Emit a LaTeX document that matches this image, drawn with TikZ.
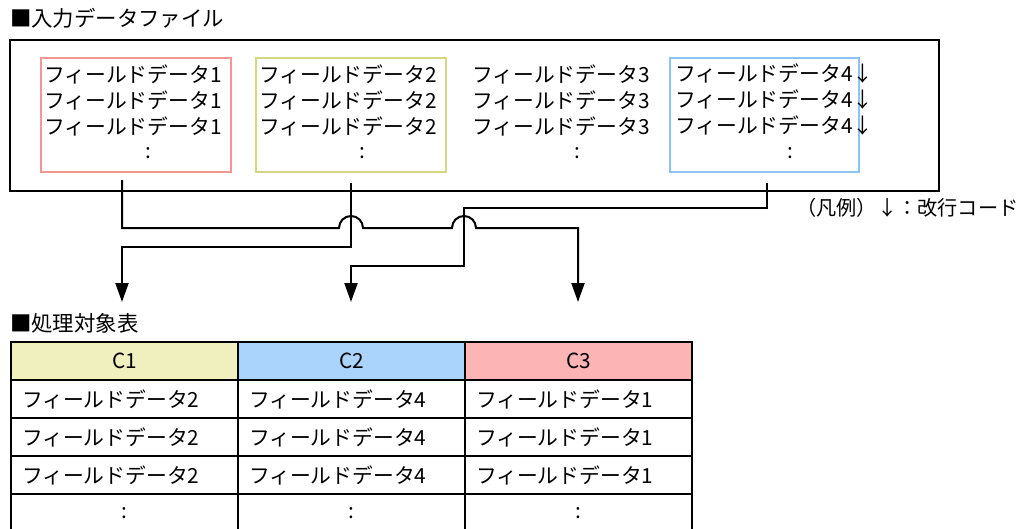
\documentclass[tikz,border=0pt]{standalone}
\usepackage{fontspec}
\setmainfont{Noto Sans CJK JP}
\usetikzlibrary{arrows.meta}
\definecolor{boxred}{RGB}{245,150,150}
\definecolor{boxyellow}{RGB}{215,215,130}
\definecolor{boxblue}{RGB}{140,195,245}
\definecolor{hdyellow}{RGB}{240,240,190}
\definecolor{hdblue}{RGB}{170,212,252}
\definecolor{hdred}{RGB}{252,180,180}
\begin{document}
\begin{tikzpicture}[x=1pt,y=-1pt,
  txt/.style={font=\fontsize{20.8}{24}\selectfont, inner sep=0pt, anchor=west},
  ctr/.style={font=\fontsize{20.8}{24}\selectfont, inner sep=0pt},
  colbox/.style={line width=2pt, minimum height=114pt, inner sep=0pt, anchor=north west},
  conn/.style={line width=2pt, line join=miter},
  tip/.style={-{Triangle[length=19pt,width=13pt]}},
  cell/.style={draw, line width=2pt, minimum height=38pt, inner xsep=11pt, inner ysep=0pt,
    text width=205pt, anchor=north west, font=\fontsize{20.8}{24}\selectfont},
  lcell/.style={cell, align=left},
  ccell/.style={cell, align=center}
]
\useasboundingbox (0,0) rectangle (1020,528);

% title
\node[txt, font=\fontsize{21.4}{24}\selectfont] (title1) at (10,18) {■入力データファイル};

% outer file box
\node[draw, line width=2pt, minimum width=929pt, minimum height=151pt, inner sep=0pt,
  anchor=north west] (infile) at (9,39) {};

% coloured boxes
\node[colbox, draw=boxred, minimum width=190pt] (boxa) at (40,57) {};
\node[colbox, draw=boxyellow, minimum width=190pt] (boxb) at (255,57) {};
\node[colbox, draw=boxblue, minimum width=189pt] (boxd) at (669,57) {};

% field texts
\node[txt] (a1) at (44,74) {フィールドデータ1};
\node[txt] (a2) at (44,100) {フィールドデータ1};
\node[txt] (a3) at (44,126) {フィールドデータ1};
\node[ctr] (a4) at (148,153) {:};
\node[txt] (b1) at (259,74) {フィールドデータ2};
\node[txt] (b2) at (259,100) {フィールドデータ2};
\node[txt] (b3) at (259,126) {フィールドデータ2};
\node[ctr] (b4) at (362,153) {:};
\node[txt] (c1) at (472,74) {フィールドデータ3};
\node[txt] (c2) at (472,100) {フィールドデータ3};
\node[txt] (c3) at (472,126) {フィールドデータ3};
\node[ctr] (c4) at (577,153) {:};
\node[txt] (d1) at (675,74) {フィールドデータ4↓};
\node[txt] (d2) at (675,100) {フィールドデータ4↓};
\node[txt] (d3) at (675,126) {フィールドデータ4↓};
\node[ctr] (d4) at (790,153) {:};

% legend
\node[txt, font=\fontsize{20.2}{24}\selectfont] (legend) at (796,208) {（凡例）↓：改行コード};

% connectors
\coordinate (s1) at (122,180);
\coordinate (s2) at (351,183);
\coordinate (s3) at (767,183);
\coordinate (e1) at (122,302);
\coordinate (e2) at (351,302);
\coordinate (e3) at (578,302);

\draw[conn,tip] (s1) |- (339,228) arc[start angle=180,end angle=0,radius=12pt]
  -- (452,228) arc[start angle=180,end angle=0,radius=12pt] -| (e3);
\draw[conn,tip] (s2) -- (351,247) -| (e1);
\draw[conn,tip] (s3) -- (767,208) -| (464,266) -| (e2);

% table title
\node[txt, font=\fontsize{21.4}{24}\selectfont] (title2) at (10,323) {■処理対象表};

% table
\node[ccell, fill=hdyellow] (h1) at (10,341) {C1};
\node[ccell, fill=hdblue] (h2) at (237,341) {C2};
\node[ccell, fill=hdred] (h3) at (464,341) {C3};
\node[lcell] (r11) at (10,379) {フィールドデータ2};
\node[lcell] (r12) at (237,379) {フィールドデータ4};
\node[lcell] (r13) at (464,379) {フィールドデータ1};
\node[lcell] (r21) at (10,417) {フィールドデータ2};
\node[lcell] (r22) at (237,417) {フィールドデータ4};
\node[lcell] (r23) at (464,417) {フィールドデータ1};
\node[lcell] (r31) at (10,455) {フィールドデータ2};
\node[lcell] (r32) at (237,455) {フィールドデータ4};
\node[lcell] (r33) at (464,455) {フィールドデータ1};
\node[ccell] (r41) at (10,493) {:};
\node[ccell] (r42) at (237,493) {:};
\node[ccell] (r43) at (464,493) {:};
\end{tikzpicture}
\end{document}
